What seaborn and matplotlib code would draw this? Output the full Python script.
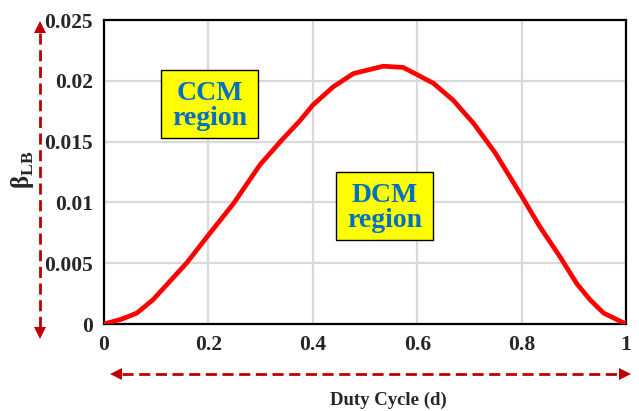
import numpy as np
import pandas as pd
import matplotlib
matplotlib.use("Agg")
import matplotlib.pyplot as plt
from matplotlib.patches import Rectangle, Polygon
from matplotlib.lines import Line2D
import seaborn as sns

# Boundary between continuous and discontinuous conduction
duty = [0.0, 0.034, 0.063, 0.094, 0.126, 0.158, 0.198, 0.248, 0.299, 0.34,
        0.375, 0.4, 0.439, 0.478, 0.535, 0.573, 0.6, 0.631, 0.669, 0.708,
        0.749, 0.799, 0.835, 0.874, 0.906, 0.931, 0.957, 1.0]
beta_lb = [0.0, 0.0004, 0.0009, 0.002, 0.0035, 0.005, 0.0072, 0.0099,
           0.0131, 0.0151, 0.0167, 0.018, 0.0195, 0.0206, 0.0212, 0.0211,
           0.0205, 0.0198, 0.0184, 0.0165, 0.0141, 0.0106, 0.008, 0.0055,
           0.0033, 0.002, 0.0009, 0.0]

x_ticks = [0, 0.2, 0.4, 0.6, 0.8, 1]
x_tick_labels = ["0", "0.2", "0.4", "0.6", "0.8", "1"]
y_ticks = [0, 0.005, 0.01, 0.015, 0.02, 0.025]
y_tick_labels = ["0", "0.005", "0.01", "0.015", "0.02", "0.025"]

sns.set_style("white")
plt.rcParams["font.family"] = ["Liberation Serif", "DejaVu Serif"]
plt.rcParams["mathtext.fontset"] = "custom"
plt.rcParams["mathtext.bf"] = "Liberation Serif:bold"
plt.rcParams["mathtext.rm"] = "Liberation Serif"

df = pd.DataFrame({"d": duty, "beta": beta_lb})

W, H = 639, 411
fig = plt.figure(figsize=(W / 100, H / 100), dpi=100)
ax = fig.add_axes([104 / W, 1 - 324 / H, 522 / W, 304 / H])

sns.lineplot(data=df, x="d", y="beta", ax=ax, color="#FF0000", linewidth=3.4,
             solid_capstyle="round", zorder=5)

ax.set_xlim(0, 1)
ax.set_ylim(0, 0.025)
ax.set_xticks(x_ticks)
ax.set_xticklabels(x_tick_labels)
ax.set_yticks(y_ticks)
ax.set_yticklabels(y_tick_labels)
ax.tick_params(axis="both", length=0, labelsize=15.5, pad=8)
for lab in ax.get_xticklabels() + ax.get_yticklabels():
    lab.set_fontweight("bold")
ax.set_xlabel("")
ax.set_ylabel("")
ax.grid(True, color="#D9D9D9", linewidth=1.6)
ax.set_axisbelow(True)
for sp in ax.spines.values():
    sp.set_visible(True)
    sp.set_color("black")
    sp.set_linewidth(1.6)

# Region labels
boxes = [
    (0.110, 0.01531, 0.185, 0.00556, "CCM\nregion"),
    (0.445, 0.00694, 0.185, 0.00559, "DCM\nregion"),
]
for x0, y0, w, h, txt in boxes:
    ax.add_patch(Rectangle((x0, y0), w, h, facecolor="#FFFF00",
                           edgecolor="black", linewidth=1.0, zorder=6))
    ax.text(x0 + w / 2, y0 + h / 2 - 0.0002, txt, ha="center", va="center",
            fontsize=20, fontweight="bold", color="#0070C0",
            linespacing=1.0, zorder=7)

# Axis titles
fig.text(388 / W, 1 - 400 / H, "Duty Cycle (d)", ha="center",
         va="center", fontsize=13.5, fontweight="bold")
fig.text(23 / W, 1 - 170 / H, r"β$_{\mathbf{LB}}$", ha="center",
         va="center", fontsize=18, fontweight="bold", rotation=90)

# Dashed double-headed direction arrows
arrow_color = "#C00000"


def px(x, y):
    return (x / W, 1 - y / H)


def dashed_arrow(p0, p1, head=12, half=6):
    (x0, y0), (x1, y1) = p0, p1
    v = np.array([x1 - x0, y1 - y0], dtype=float)
    L = np.hypot(*v)
    u = v / L
    n = np.array([-u[1], u[0]])
    a = np.array([x0, y0]) + u * head
    b = np.array([x1, y1]) - u * head
    fig.add_artist(Line2D([px(*a)[0], px(*b)[0]], [px(*a)[1], px(*b)[1]],
                          transform=fig.transFigure, color=arrow_color,
                          linewidth=2.0, linestyle=(0, (4, 2))))
    for tip, base in [((x0, y0), a), ((x1, y1), b)]:
        pts = [px(*tip), px(*(base + n * half)), px(*(base - n * half))]
        fig.add_artist(Polygon(pts, closed=True, transform=fig.transFigure,
                               facecolor=arrow_color, edgecolor="none"))


dashed_arrow((40, 21), (40, 339))
dashed_arrow((110, 374), (631, 374))

fig.savefig("out.png", dpi=100)
